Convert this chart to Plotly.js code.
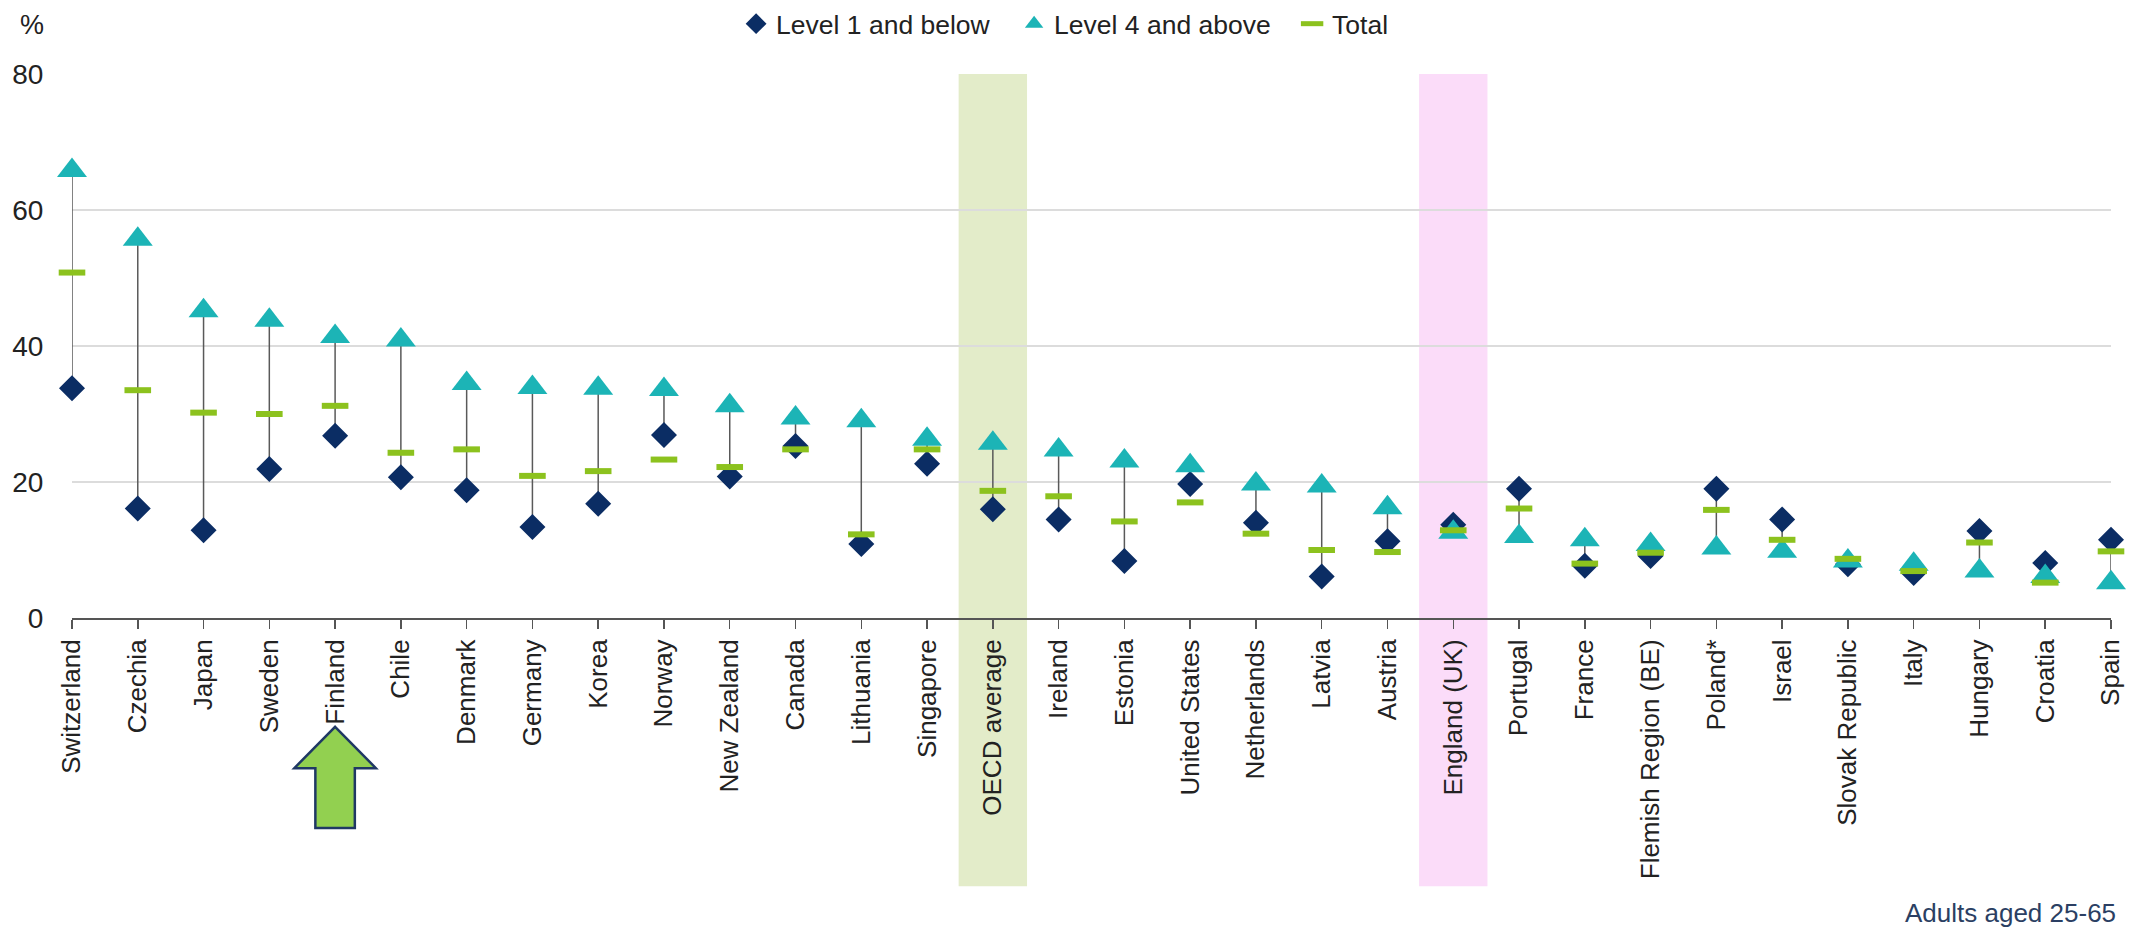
<!DOCTYPE html>
<html>
<head>
<meta charset="utf-8">
<script src="https://cdn.plot.ly/plotly-3.0.1.min.js"></script>
<style>html,body{margin:0;padding:0;background:#fff;}#chart{width:2144px;height:935px;}</style>
</head>
<body>
<div id="chart"></div>
<script>
const categories = ["Switzerland","Czechia","Japan","Sweden","Finland","Chile","Denmark","Germany","Korea","Norway","New Zealand","Canada","Lithuania","Singapore","OECD average","Ireland","Estonia","United States","Netherlands","Latvia","Austria","England (UK)","Portugal","France","Flemish Region (BE)","Poland*","Israel","Slovak Republic","Italy","Hungary","Croatia","Spain"];
const level1 = [33.8,16.1,12.9,21.9,26.8,20.7,18.8,13.4,16.8,26.9,20.8,25.3,10.9,22.7,16.0,14.5,8.4,19.7,14.0,6.1,11.3,13.7,19.0,7.7,9.1,19.0,14.5,7.9,6.6,12.8,8.1,11.5];
const level4 = [65.8,55.7,45.2,43.8,41.4,40.9,34.5,33.9,33.8,33.6,31.2,29.4,29.0,26.3,25.7,24.7,23.1,22.4,19.7,19.4,16.2,12.6,12.0,11.5,10.8,10.3,9.8,8.4,7.9,6.9,6.1,5.2];
const total  = [50.8,33.5,30.2,30.0,31.2,24.3,24.8,20.9,21.6,23.3,22.2,24.8,12.3,24.8,18.7,17.9,14.2,17.0,12.4,10.0,9.7,12.9,16.1,8.0,9.6,15.9,11.5,8.7,6.9,11.1,5.2,9.8];
const yTicks = [0, 20, 40, 60, 80];
const legendNames = ["Level 1 and below","Level 4 and above","Total"];
const note = "Adults aged 25-65";
const highlightOECD = "OECD average";
const highlightEngland = "England (UK)";
const highlightArrow = "Finland";

const navy = "#0b2d64", teal = "#1cb4b6", green = "#8cc21e";
const font = "Liberation Sans, Arial, sans-serif";

// connector lines between Level 1 and Level 4
const lx = [], ly = [];
categories.forEach((c, i) => {
  lx.push(c, c, null);
  ly.push(Math.min(level1[i], level4[i]), Math.max(level1[i], level4[i]), null);
});

const traces = [
  {x: lx, y: ly, mode: "lines", line: {color: "#595959", width: 1.5}, showlegend: false, hoverinfo: "skip", cliponaxis: false},
  {x: categories, y: level1, name: legendNames[0], mode: "markers", cliponaxis: false,
   marker: {symbol: "diamond", size: 20, color: navy}},
  {x: categories, y: level4, name: legendNames[1], mode: "markers", cliponaxis: false,
   marker: {symbol: "triangle-up", size: 26, color: teal}},
  {x: categories, y: total, name: legendNames[2], mode: "markers", cliponaxis: false,
   marker: {symbol: "line-ew", size: 19, color: green, line: {color: green, width: 6}}}
];

const iO = categories.indexOf(highlightOECD);
const iE = categories.indexOf(highlightEngland);
const iF = categories.indexOf(highlightArrow);

const layout = {
  width: 2144, height: 935,
  margin: {l: 72, r: 33, t: 74, b: 317, autoexpand: false},
  paper_bgcolor: "#fff", plot_bgcolor: "#fff",
  font: {family: font, color: "#222", size: 26},
  showlegend: true,
  legend: {orientation: "h", x: 0.3257, xanchor: "left", y: 1.092, yanchor: "middle",
           entrywidth: 233, entrywidthmode: "pixels",
           font: {family: font, size: 26.5, color: "#222"}, traceorder: "normal", itemwidth: 30},
  xaxis: {
    type: "category", range: [0, categories.length - 1],
    tickangle: -90, ticks: "outside", ticklen: 9, tickwidth: 1.5, tickcolor: "#555",
    showline: true, linecolor: "#555", linewidth: 2, showgrid: false,
    tickfont: {family: font, size: 26, color: "#222"}, zeroline: false
  },
  yaxis: {
    range: [0, 80], tickvals: yTicks, showgrid: true, gridcolor: "#dcdcdc", gridwidth: 1.5,
    zeroline: false, showline: false, ticks: "outside", ticklen: 22, tickcolor: "rgba(0,0,0,0)",
    tickfont: {family: font, size: 28, color: "#222"}
  },
  shapes: [
    {type: "rect", xref: "x", yref: "paper", x0: iO - 0.52, x1: iO + 0.52, y0: -0.493, y1: 1,
     fillcolor: "#e3ecc9", line: {width: 0}, layer: "below"},
    {type: "rect", xref: "x", yref: "paper", x0: iE - 0.52, x1: iE + 0.52, y0: -0.493, y1: 1,
     fillcolor: "#fbdcf9", line: {width: 0}, layer: "below"},
    {type: "path", xref: "x", yref: "paper",
     path: `M ${iF} -0.200 L ${iF + 0.62} -0.276 L ${iF + 0.30} -0.276 L ${iF + 0.30} -0.386 L ${iF - 0.30} -0.386 L ${iF - 0.30} -0.276 L ${iF - 0.62} -0.276 Z`,
     fillcolor: "#92d050", line: {color: "#1f3864", width: 2.5}}
  ],
  annotations: [
    {text: "%", xref: "paper", yref: "paper", x: -0.0196, y: 1.09, showarrow: false,
     xanchor: "center", yanchor: "middle", font: {family: font, size: 27, color: "#222"}},
    {text: note, xref: "paper", yref: "paper", x: 1.0034, y: -0.542, showarrow: false,
     xanchor: "right", yanchor: "middle", font: {family: font, size: 26, color: "#2b3f63"}}
  ]
};

Plotly.newPlot("chart", traces, layout, {displayModeBar: false, staticPlot: true});
</script>
</body>
</html>
